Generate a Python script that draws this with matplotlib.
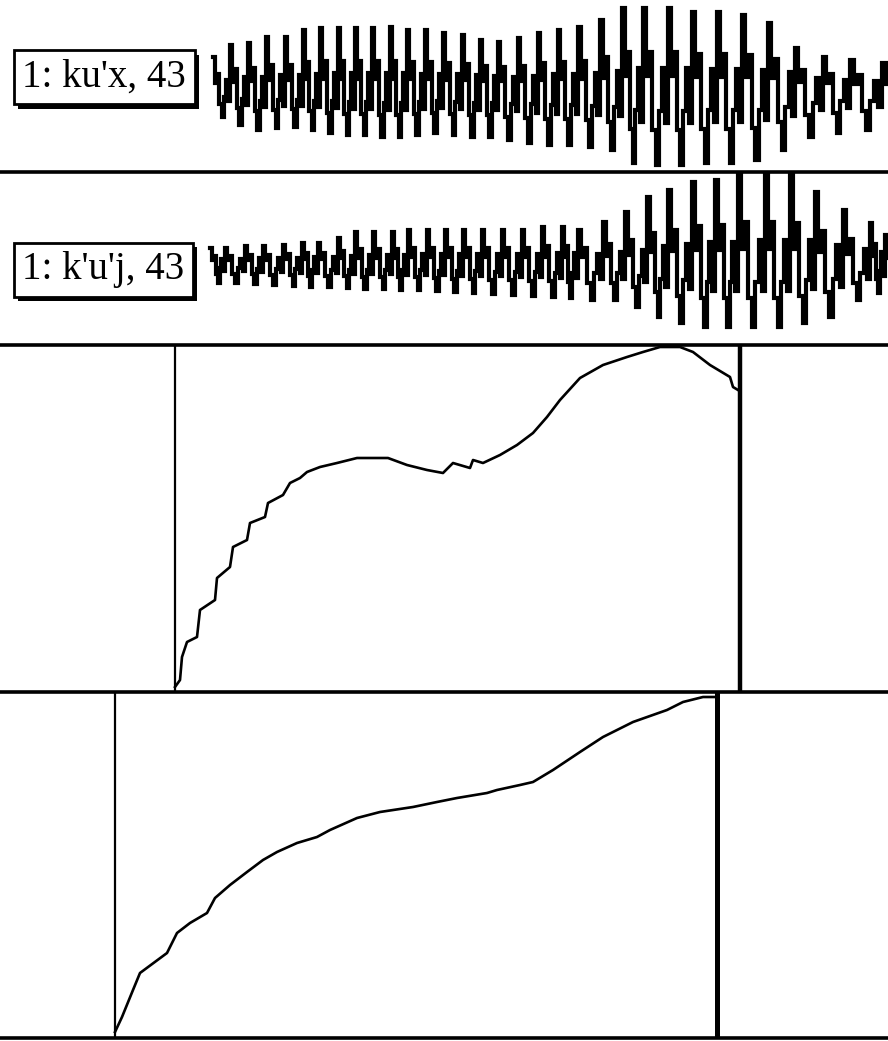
import matplotlib
matplotlib.use("Agg")
import matplotlib.pyplot as plt
import matplotlib.patheffects as pe
import numpy as np

# waveform 1 "ku'x": pulse times (ms) and peak / trough amplitude per pulse
w1_t = [8, 25, 43, 61, 80, 98, 115, 133, 150, 167, 185, 202, 220, 238, 257, 275, 293,
        313, 333, 353, 373, 395, 417, 438, 463, 487, 512, 537, 563, 590, 618, 645, 677]
w1_top = [31, 43, 45, 51, 51, 58, 60, 60, 60, 60, 61, 58, 58, 55, 53, 48, 46,
          50, 55, 58, 61, 68, 80, 80, 80, 76, 76, 73, 65, 40, 31, 28, 25]
w1_bot = [-29, -37, -42, -40, -39, -42, -45, -47, -47, -49, -49, -47, -45, -47, -49, -49, -52,
          -55, -57, -57, -59, -62, -75, -77, -77, -75, -75, -72, -62, -49, -45, -42, -32]

# waveform 2 "k'u'j"
w2_t = [5, 20, 40, 58, 78, 97, 113, 133, 150, 168, 187, 203, 222, 240, 258, 277, 297,
        317, 337, 357, 373, 398, 420, 442, 463, 487, 510, 533, 560, 585, 610, 638, 665, 680]
w2_top = [14, 14, 16, 16, 17, 19, 19, 24, 30, 30, 30, 32, 32, 32, 32, 32, 32,
          32, 35, 35, 32, 40, 50, 65, 72, 80, 82, 89, 89, 87, 70, 52, 39, 27]
w2_bot = [-21, -21, -22, -23, -24, -25, -25, -26, -27, -27, -28, -28, -29, -30, -31, -32, -33,
          -34, -35, -36, -38, -38, -45, -55, -61, -65, -65, -65, -65, -61, -55, -38, -31, -21]

# pitch contour 1 (ms, Hz-scale units)
p1_t = [0, 5, 7, 12, 22, 25, 40, 42, 55, 58, 72, 75, 90, 93, 108, 115, 125, 132, 145, 162,
        182, 213, 232, 252, 268, 278, 295, 298, 308, 325, 342, 358, 372, 385, 405, 428,
        452, 468, 485, 505, 518, 535, 555, 558, 563]
p1_f0 = [5, 12, 35, 50, 55, 82, 92, 114, 125, 145, 152, 169, 175, 189, 197, 209, 214, 220, 225, 229,
         234, 234, 227, 222, 219, 229, 224, 232, 229, 237, 247, 259, 275, 292, 314, 327,
         335, 340, 345, 345, 340, 327, 315, 305, 302]
p1_span = [0, 565]

# pitch contour 2
p2_t = [0, 7, 18, 25, 52, 62, 75, 92, 100, 115, 132, 148, 162, 182, 202, 215, 242, 265,
        298, 322, 342, 372, 382, 405, 418, 438, 465, 488, 518, 552, 568, 588, 600]
p2_f0 = [6, 21, 48, 65, 85, 105, 115, 125, 140, 153, 166, 178, 186, 195, 201, 208, 220, 226,
         231, 236, 240, 245, 248, 253, 256, 268, 286, 301, 316, 328, 336, 341, 341]
p2_span = [0, 602]

labels = ["1: ku'x, 43", "1: k'u'j, 43"]

# shape of one pulse: (fraction of period, which extreme, share of it)
pulse = [(0.00, 1, 1.0), (0.12, 1, 0.15), (0.25, 1, 0.45), (0.37, 0, 0.55),
         (0.50, 0, 1.0), (0.64, 0, 0.3), (0.76, 1, 0.25), (0.88, 0, 0.45)]


def draw_wave(ax, t, top, bot):
    xs, ys = [], []
    for i in range(len(t)):
        per = t[i + 1] - t[i] if i + 1 < len(t) else t[i] - t[i - 1]
        for frac, hi, share in pulse:
            xs.append(t[i] + frac * per)
            ys.append(share * (top[i] if hi else bot[i]))
    xs.append(t[-1] + per)
    ys.append(0)
    ax.plot(xs, ys, color="black", lw=3.0, drawstyle="steps-post", solid_joinstyle="miter")


H = 1041.0
fig = plt.figure(figsize=(8.88, 10.41), dpi=100)
ax_w1 = fig.add_axes([0, 1 - 172 / H, 1, 172 / H])
ax_w2 = fig.add_axes([0, 1 - 345 / H, 1, 173 / H])
ax_p1 = fig.add_axes([0, 1 - 692 / H, 1, 347 / H])
ax_p2 = fig.add_axes([0, 3 / H, 1, 346 / H])

for ax in [ax_w1, ax_w2, ax_p1, ax_p2]:
    ax.set_xticks([])
    ax.set_yticks([])
    for s in ["top", "left", "right"]:
        ax.spines[s].set_visible(False)
    ax.spines["bottom"].set_linewidth(2.6)
    ax.patch.set_alpha(0)

draw_wave(ax_w1, w1_t, w1_top, w1_bot)
ax_w1.set_xlim(-205, 683)
ax_w1.set_ylim(-84, 88)

draw_wave(ax_w2, w2_t, w2_top, w2_bot)
ax_w2.set_xlim(-205, 683)
ax_w2.set_ylim(-83, 90)

ax_p1.plot(p1_t, p1_f0, color="black", lw=1.9)
ax_p1.axvline(p1_span[0], color="black", lw=1.6)
ax_p1.axvline(p1_span[1], color="black", lw=3.2)
ax_p1.set_xlim(-175, 713)
ax_p1.set_ylim(0, 347)

ax_p2.plot(p2_t, p2_f0, color="black", lw=1.9)
ax_p2.axvline(p2_span[0], color="black", lw=1.6)
ax_p2.axvline(p2_span[1], color="black", lw=3.6)
ax_p2.set_xlim(-115, 773)
ax_p2.set_ylim(0, 346)

# label boxes with a drop shadow
for ax, lab, y0 in [(ax_w1, labels[0], 0.55), (ax_w2, labels[1], 0.435)]:
    txt = ax.text(0.025, y0, lab, transform=ax.transAxes, ha="left", va="center",
                  fontsize=28, family="Liberation Serif", color="black",
                  bbox=dict(boxstyle="square,pad=0.22", fc="white", ec="black", lw=2))
    txt.get_bbox_patch().set_path_effects(
        [pe.SimplePatchShadow(offset=(3, -3), shadow_rgbFace="black", alpha=1), pe.Normal()])

fig.savefig("out.png", dpi=100)
